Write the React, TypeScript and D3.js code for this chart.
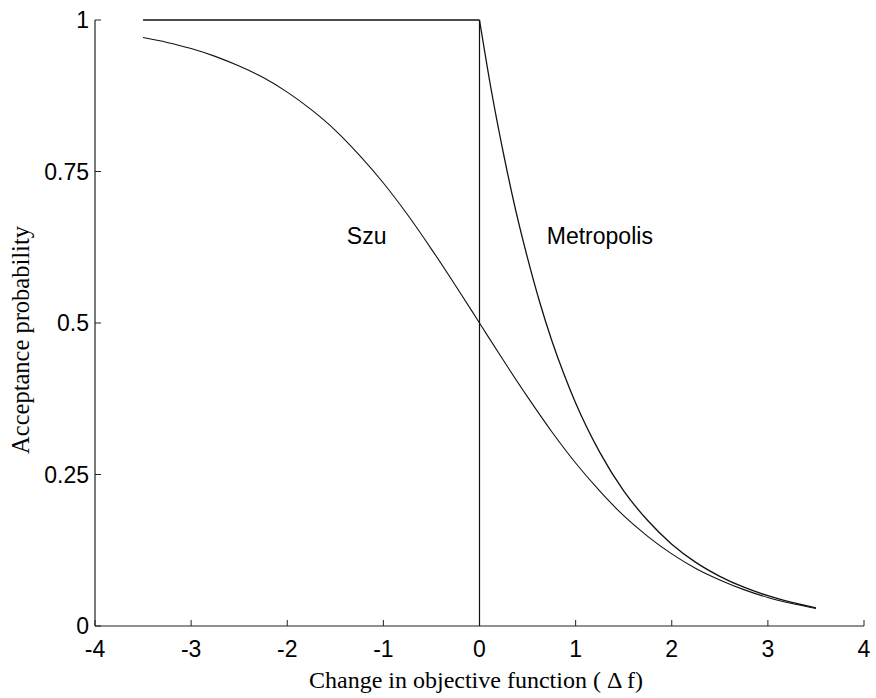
import React from "react";
import * as d3 from "d3";

// Δf sample points
const szuX = [-3.5, -3.25, -3, -2.75, -2.5, -2.25, -2, -1.75, -1.5, -1.25, -1, -0.75, -0.5, -0.25, 0, 0.25, 0.5, 0.75, 1, 1.25, 1.5, 1.75, 2, 2.25, 2.5, 2.75, 3, 3.25, 3.5];
const szuY = [0.971, 0.963, 0.953, 0.94, 0.924, 0.905, 0.881, 0.852, 0.818, 0.777, 0.731, 0.679, 0.622, 0.562, 0.5, 0.438, 0.378, 0.321, 0.269, 0.223, 0.182, 0.148, 0.119, 0.095, 0.076, 0.06, 0.047, 0.037, 0.029];

const metroX = [-3.5, 0, 0.125, 0.25, 0.375, 0.5, 0.625, 0.75, 0.875, 1, 1.25, 1.5, 1.75, 2, 2.25, 2.5, 2.75, 3, 3.25, 3.5];
const metroY = [1, 1, 0.882, 0.779, 0.687, 0.607, 0.535, 0.472, 0.417, 0.368, 0.287, 0.223, 0.174, 0.135, 0.105, 0.082, 0.064, 0.05, 0.039, 0.03];

// vertical line at Δf = 0
const zeroLineX = [0, 0];
const zeroLineY = [0, 1];

const xTicks = [-4, -3, -2, -1, 0, 1, 2, 3, 4];
const yTicks = [0, 0.25, 0.5, 0.75, 1];
const yTickLabels = ["0", "0.25", "0.5", "0.75", "1"];

const seriesLabels = [
  { text: "Szu", x: -1.38, y: 0.63 },
  { text: "Metropolis", x: 0.7, y: 0.63 },
];

export default function App() {
  const W = 876, H = 698;
  const x = d3.scaleLinear().domain([-4, 4]).range([95, 864]);
  const y = d3.scaleLinear().domain([0, 1]).range([626, 20]);

  const toPts = (xs: number[], ys: number[]) => xs.map((v, i) => [v, ys[i]] as [number, number]);
  const smooth = d3.line<[number, number]>().x(d => x(d[0])).y(d => y(d[1])).curve(d3.curveMonotoneX);
  const straight = d3.line<[number, number]>().x(d => x(d[0])).y(d => y(d[1]));

  const metroPts = toPts(metroX, metroY);
  const metroFlat = metroPts.slice(0, 2);
  const metroCurve = metroPts.slice(1);

  const sans = "'Liberation Sans', Arial, sans-serif";
  const serif = "'Liberation Serif', 'Times New Roman', serif";
  const tickLen = 6;

  return (
    <svg width={W} height={H} style={{ position: "absolute", left: 0, top: 0, background: "#fff" }}>
      <rect x={0} y={0} width={W} height={H} fill="#fff" />
      {/* axes */}
      <line x1={x(-4)} x2={x(4)} y1={y(0)} y2={y(0)} stroke="#222" strokeWidth={1.2} />
      <line x1={x(-4)} x2={x(-4)} y1={y(0)} y2={y(1)} stroke="#222" strokeWidth={1.2} />
      {xTicks.map(t => (
        <g key={"xt" + t}>
          <line x1={x(t)} x2={x(t)} y1={y(0)} y2={y(0) - tickLen} stroke="#222" strokeWidth={1} />
          <text x={x(t)} y={657} textAnchor="middle" fontFamily={sans} fontSize={23} fill="#000">{t}</text>
        </g>
      ))}
      {yTicks.map((t, i) => (
        <g key={"yt" + t}>
          <line x1={x(-4)} x2={x(-4) + tickLen} y1={y(t)} y2={y(t)} stroke="#222" strokeWidth={1} />
          <text x={89} y={y(t)} dy="0.36em" textAnchor="end" fontFamily={sans} fontSize={23} fill="#000">{yTickLabels[i]}</text>
        </g>
      ))}
      {/* series */}
      <path d={straight(toPts(zeroLineX, zeroLineY)) || ""} fill="none" stroke="#111" strokeWidth={1.2} />
      <path d={straight(metroFlat) || ""} fill="none" stroke="#111" strokeWidth={1.3} />
      <path d={smooth(metroCurve) || ""} fill="none" stroke="#111" strokeWidth={1.3} />
      <path d={smooth(toPts(szuX, szuY)) || ""} fill="none" stroke="#111" strokeWidth={1.1} />
      {seriesLabels.map(l => (
        <text key={l.text} x={x(l.x)} y={y(l.y)} fontFamily={sans} fontSize={23} fill="#000">{l.text}</text>
      ))}
      {/* axis titles */}
      <text x={476} y={688} textAnchor="middle" fontFamily={serif} fontSize={24} fill="#000">Change in objective function ( Δ f)</text>
      <text transform="translate(29,340) rotate(-90)" textAnchor="middle" fontFamily={serif} fontSize={24.5} fill="#000">Acceptance probability</text>
    </svg>
  );
}
